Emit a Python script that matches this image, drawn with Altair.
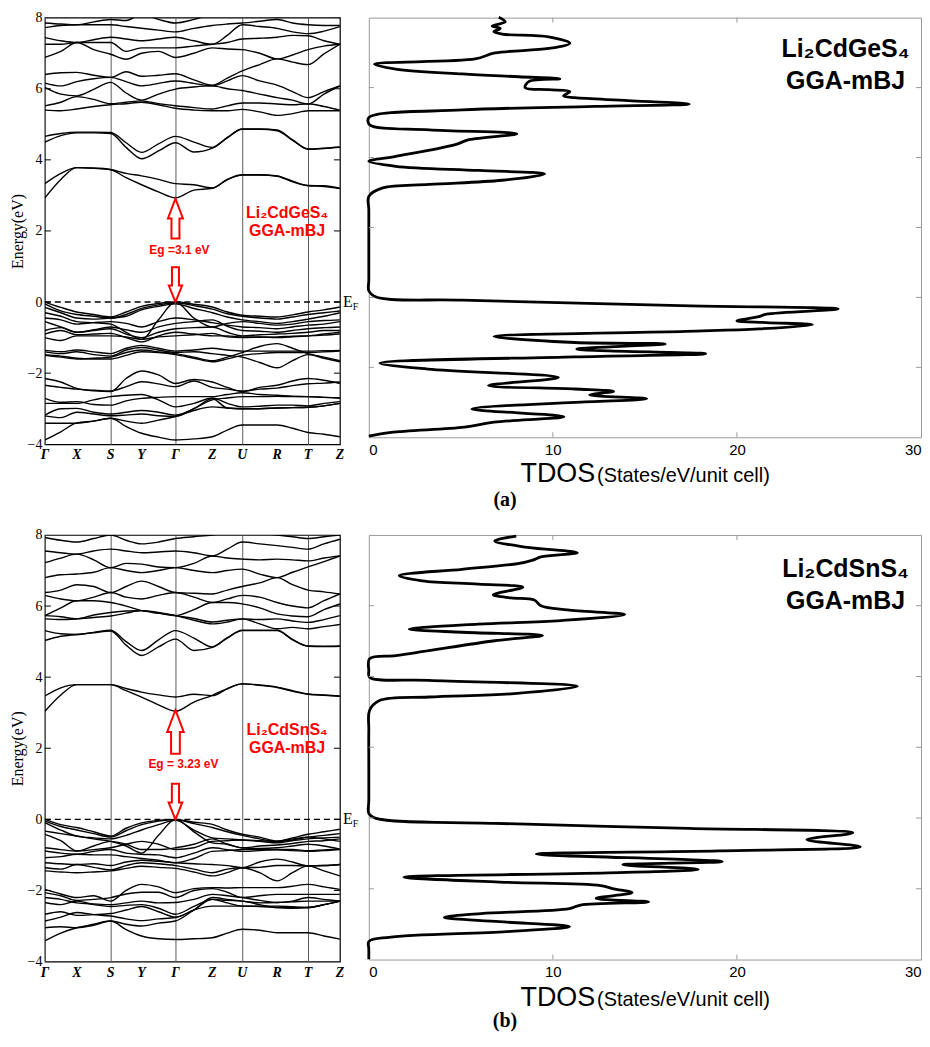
import altair as alt
import pandas as pd

# ---------------- data ----------------
K_POS = [0.0, 0.32, 0.66, 0.97, 1.31, 1.68, 1.98, 2.33, 2.64, 2.96]
K_LABELS = ["Γ", "X", "S", "Y", "Γ", "Z", "U", "R", "T", "Z"]
K_SAMPLE = [0.0, 0.16, 0.32, 0.49, 0.66, 0.815, 0.97, 1.14, 1.31, 1.495,
            1.68, 1.83, 1.98, 2.155, 2.33, 2.485, 2.64, 2.80, 2.96]
E_TICKS = [-4, -2, 0, 2, 4, 6, 8]
DOS_TICKS = [0, 10, 20, 30]

BANDS_A_CB = [
    [2.93, 3.45, 3.78, 3.76, 3.72, 3.50, 3.30, 3.10, 2.93, 3.15, 3.20, 3.45, 3.58, 3.58, 3.55, 3.40, 3.28, 3.27, 3.20],
    [3.33, 3.62, 3.78, 3.77, 3.73, 3.62, 3.55, 3.45, 3.33, 3.30, 3.21, 3.44, 3.57, 3.57, 3.54, 3.38, 3.27, 3.25, 3.19],
    [4.50, 4.68, 4.76, 4.76, 4.74, 4.35, 4.03, 4.25, 4.48, 4.22, 4.33, 4.62, 4.86, 4.86, 4.82, 4.55, 4.30, 4.32, 4.35],
    [4.66, 4.74, 4.78, 4.78, 4.77, 4.48, 4.21, 4.45, 4.66, 4.50, 4.35, 4.63, 4.87, 4.87, 4.84, 4.56, 4.31, 4.33, 4.36],
    [5.40, 5.38, 5.43, 5.50, 5.55, 5.58, 5.62, 5.55, 5.45, 5.40, 5.38, 5.38, 5.42, 5.35, 5.25, 5.30, 5.38, 5.38, 5.38],
    [5.52, 5.62, 5.78, 5.70, 5.58, 5.62, 5.66, 5.58, 5.52, 5.47, 5.43, 5.52, 5.60, 5.60, 5.57, 5.55, 5.58, 5.50, 5.40],
    [6.04, 5.85, 5.80, 5.98, 6.18, 5.88, 5.68, 5.85, 5.99, 6.05, 6.08, 6.00, 5.95, 5.85, 5.75, 5.68, 5.57, 5.85, 6.08],
    [6.16, 6.08, 6.20, 6.28, 6.32, 6.20, 6.08, 6.15, 6.22, 6.15, 6.08, 6.22, 6.37, 6.22, 6.10, 5.92, 5.75, 5.92, 6.08],
    [6.40, 6.45, 6.46, 6.38, 6.32, 6.48, 6.35, 6.38, 6.42, 6.25, 6.10, 6.30, 6.50, 6.68, 6.84, 6.75, 6.68, 6.98, 7.25],
    [6.88, 7.05, 7.30, 7.10, 6.97, 6.83, 7.00, 7.05, 6.88, 7.00, 7.15, 7.12, 7.10, 7.00, 6.84, 6.95, 7.10, 7.20, 7.25],
    [7.25, 7.25, 7.30, 7.30, 7.30, 7.05, 7.15, 7.15, 7.15, 7.20, 7.25, 7.30, 7.40, 7.42, 7.45, 7.50, 7.49, 7.35, 7.25],
    [7.44, 7.35, 7.30, 7.38, 7.45, 7.40, 7.35, 7.40, 7.45, 7.35, 7.25, 7.50, 7.80, 7.75, 7.70, 7.60, 7.55, 7.62, 7.75],
    [7.72, 7.78, 7.80, 7.80, 7.80, 7.75, 7.70, 7.65, 7.60, 7.70, 7.78, 7.82, 7.85, 7.90, 7.95, 7.85, 7.80, 7.78, 7.78],
    [7.85, 7.82, 7.80, 7.88, 7.95, 7.92, 8.10, 7.95, 7.85, 7.95, 8.10, 8.15, 8.20, 8.10, 8.00, 8.05, 8.10, 8.05, 8.00],
]
BANDS_A_VB = [
    [0.00, -0.15, -0.28, -0.35, -0.42, -0.28, -0.12, -0.04, 0.00, -0.06, -0.14, -0.28, -0.37, -0.40, -0.42, -0.36, -0.28, -0.22, -0.14],
    [-0.05, -0.25, -0.35, -0.40, -0.45, -0.35, -0.18, -0.08, -0.02, -0.10, -0.20, -0.33, -0.40, -0.45, -0.48, -0.42, -0.35, -0.30, -0.25],
    [-0.15, -0.30, -0.45, -0.48, -0.45, -0.40, -0.22, -0.12, -0.05, -0.18, -0.30, -0.42, -0.50, -0.55, -0.60, -0.55, -0.48, -0.40, -0.30],
    [-0.30, -0.40, -0.55, -0.58, -0.62, -0.85, -1.05, -0.50, 0.00, -0.45, -0.70, -0.60, -0.55, -0.60, -0.65, -0.62, -0.55, -0.52, -0.50],
    [-0.45, -0.50, -0.62, -0.58, -0.55, -0.60, -0.70, -0.55, -0.45, -0.50, -0.58, -0.65, -0.70, -0.72, -0.75, -0.70, -0.65, -0.62, -0.55],
    [-0.55, -0.70, -0.85, -0.78, -0.70, -0.78, -0.85, -0.70, -0.60, -0.55, -0.50, -0.68, -0.80, -0.82, -0.85, -0.80, -0.75, -0.72, -0.70],
    [-0.80, -0.72, -0.85, -0.80, -0.75, -0.90, -1.00, -0.85, -0.75, -0.72, -0.70, -0.85, -0.95, -0.92, -0.90, -0.88, -0.85, -0.80, -0.80],
    [-0.90, -0.80, -0.92, -0.90, -0.88, -1.00, -1.12, -0.95, -0.85, -0.90, -0.95, -0.95, -0.98, -0.98, -1.00, -0.98, -0.95, -0.90, -0.85],
    [-1.00, -1.08, -0.95, -0.95, -0.95, -0.98, -1.05, -0.98, -0.95, -0.92, -0.88, -0.98, -1.00, -0.99, -0.98, -0.96, -0.95, -0.93, -0.90],
    [-1.36, -1.40, -1.35, -1.40, -1.45, -1.30, -1.22, -1.30, -1.38, -1.35, -1.30, -1.35, -1.38, -1.38, -1.38, -1.38, -1.38, -1.37, -1.36],
    [-1.40, -1.45, -1.40, -1.48, -1.52, -1.35, -1.28, -1.35, -1.42, -1.40, -1.45, -1.50, -1.55, -1.70, -1.85, -1.65, -1.48, -1.58, -1.68],
    [-1.50, -1.55, -1.60, -1.58, -1.55, -1.42, -1.35, -1.40, -1.45, -1.55, -1.65, -1.55, -1.42, -1.25, -1.17, -1.30, -1.45, -1.55, -1.65],
    [-1.48, -1.52, -1.58, -1.60, -1.60, -1.50, -1.40, -1.42, -1.48, -1.58, -1.68, -1.60, -1.50, -1.45, -1.42, -1.42, -1.42, -1.40, -1.38],
    [-2.15, -2.25, -2.43, -2.50, -2.52, -2.15, -1.94, -2.05, -2.29, -2.18, -2.25, -2.40, -2.52, -2.40, -2.34, -2.22, -2.15, -2.20, -2.29],
    [-2.34, -2.40, -2.45, -2.48, -2.50, -2.38, -2.24, -2.30, -2.38, -2.22, -2.40, -2.45, -2.50, -2.45, -2.42, -2.35, -2.30, -2.28, -2.25],
    [-2.71, -2.82, -2.80, -2.88, -2.90, -2.78, -2.71, -2.68, -2.66, -2.66, -2.66, -2.60, -2.55, -2.60, -2.62, -2.65, -2.66, -2.68, -2.70],
    [-2.85, -2.85, -2.85, -2.75, -2.66, -2.62, -2.60, -2.75, -2.95, -2.85, -2.70, -2.85, -2.95, -2.93, -2.90, -2.90, -2.92, -2.85, -2.80],
    [-3.18, -3.00, -2.99, -3.10, -3.15, -3.10, -3.05, -3.10, -3.18, -3.00, -2.72, -2.98, -3.00, -3.00, -2.98, -2.97, -2.96, -2.92, -2.85],
    [-3.20, -3.25, -3.10, -3.15, -3.20, -3.18, -3.15, -3.20, -3.22, -3.00, -2.75, -2.70, -2.66, -2.66, -2.65, -2.66, -2.66, -2.68, -2.70],
    [-3.41, -3.41, -3.41, -3.35, -3.27, -3.35, -3.41, -3.32, -3.22, -3.05, -2.95, -2.98, -3.00, -3.00, -2.98, -2.97, -2.96, -2.92, -2.85],
    [-3.88, -3.65, -3.40, -3.35, -3.27, -3.50, -3.69, -3.80, -3.88, -3.85, -3.79, -3.60, -3.46, -3.46, -3.46, -3.55, -3.67, -3.72, -3.79],
]
BANDS_B_CB = [
    [3.04, 3.50, 3.79, 3.79, 3.79, 3.62, 3.44, 3.22, 3.04, 3.30, 3.49, 3.68, 3.81, 3.78, 3.72, 3.62, 3.53, 3.50, 3.47],
    [3.47, 3.70, 3.79, 3.79, 3.79, 3.68, 3.58, 3.50, 3.44, 3.52, 3.48, 3.67, 3.81, 3.77, 3.71, 3.60, 3.52, 3.49, 3.46],
    [5.03, 5.15, 5.20, 5.25, 5.30, 4.90, 4.61, 4.85, 5.07, 4.75, 4.84, 5.10, 5.31, 5.31, 5.31, 5.05, 4.87, 4.86, 4.87],
    [5.31, 5.22, 5.20, 5.26, 5.32, 5.00, 4.75, 5.05, 5.31, 5.10, 4.85, 5.11, 5.32, 5.32, 5.32, 5.06, 4.88, 4.87, 4.88],
    [5.64, 5.62, 5.64, 5.68, 5.72, 5.80, 5.87, 5.80, 5.73, 5.60, 5.50, 5.55, 5.64, 5.50, 5.36, 5.40, 5.36, 5.42, 5.48],
    [5.73, 5.70, 5.64, 5.75, 5.82, 5.86, 5.87, 5.82, 5.73, 5.65, 5.55, 5.60, 5.64, 5.62, 5.64, 5.58, 5.54, 5.62, 5.73],
    [5.73, 5.95, 6.15, 6.15, 6.10, 6.00, 5.87, 5.80, 5.73, 5.90, 6.10, 6.10, 6.06, 5.95, 5.78, 5.72, 5.70, 5.90, 6.06],
    [6.30, 6.20, 6.15, 6.25, 6.38, 6.25, 6.20, 6.30, 6.38, 6.25, 6.10, 6.20, 6.30, 6.25, 6.10, 6.00, 5.95, 6.15, 6.34],
    [6.38, 6.45, 6.60, 6.55, 6.38, 6.55, 6.70, 6.55, 6.38, 6.36, 6.34, 6.45, 6.55, 6.65, 6.80, 6.60, 6.45, 6.40, 6.34],
    [6.80, 6.88, 6.90, 6.95, 7.08, 7.00, 6.94, 7.00, 7.08, 7.00, 6.94, 7.00, 7.04, 6.90, 6.80, 6.95, 7.10, 7.25, 7.41],
    [7.22, 7.35, 7.46, 7.30, 7.08, 7.20, 7.18, 7.10, 7.08, 7.20, 7.41, 7.35, 7.32, 7.30, 7.32, 7.30, 7.27, 7.35, 7.41],
    [7.55, 7.50, 7.46, 7.55, 7.60, 7.55, 7.50, 7.52, 7.55, 7.50, 7.41, 7.60, 7.80, 7.75, 7.70, 7.65, 7.60, 7.75, 7.88],
    [7.93, 7.85, 7.80, 7.90, 8.00, 7.85, 7.75, 7.80, 7.90, 7.95, 8.00, 8.05, 8.10, 8.05, 8.00, 7.95, 7.90, 7.95, 8.00],
]
BANDS_B_VB = [
    [0.00, -0.15, -0.23, -0.35, -0.47, -0.25, -0.10, -0.03, 0.00, -0.08, -0.14, -0.30, -0.42, -0.50, -0.61, -0.52, -0.42, -0.35, -0.28],
    [-0.05, -0.20, -0.30, -0.40, -0.50, -0.32, -0.15, -0.05, -0.01, -0.12, -0.23, -0.35, -0.45, -0.55, -0.63, -0.58, -0.50, -0.45, -0.40],
    [-0.09, -0.30, -0.47, -0.52, -0.55, -0.45, -0.30, -0.15, -0.03, -0.30, -0.52, -0.55, -0.58, -0.62, -0.66, -0.60, -0.55, -0.52, -0.50],
    [-0.33, -0.40, -0.47, -0.55, -0.62, -0.75, -0.95, -0.45, 0.00, -0.35, -0.66, -0.70, -0.80, -0.75, -0.72, -0.68, -0.62, -0.60, -0.55],
    [-0.42, -0.60, -0.89, -0.75, -0.62, -0.70, -0.85, -0.85, -0.80, -0.70, -0.55, -0.70, -0.80, -0.82, -0.80, -0.75, -0.70, -0.75, -0.84],
    [-0.80, -0.85, -0.89, -0.85, -0.80, -0.70, -0.62, -0.70, -0.85, -0.80, -0.62, -0.60, -0.58, -0.60, -0.62, -0.55, -0.50, -0.55, -0.62],
    [-0.89, -0.95, -0.98, -0.90, -0.85, -0.95, -0.98, -1.00, -1.08, -0.95, -0.80, -0.85, -0.90, -0.88, -0.85, -0.85, -0.88, -0.86, -0.84],
    [-1.08, -1.05, -0.98, -1.00, -1.00, -1.05, -1.10, -1.15, -1.22, -1.10, -0.90, -0.88, -0.85, -0.85, -0.86, -0.88, -0.90, -0.88, -0.85],
    [-1.22, -1.25, -1.27, -1.25, -1.30, -1.20, -1.15, -1.18, -1.22, -1.25, -1.27, -1.30, -1.36, -1.20, -1.12, -1.20, -1.31, -1.30, -1.27],
    [-1.36, -1.40, -1.27, -1.35, -1.42, -1.30, -1.22, -1.25, -1.30, -1.40, -1.50, -1.40, -1.36, -1.50, -1.73, -1.50, -1.31, -1.45, -1.59],
    [-1.45, -1.48, -1.50, -1.48, -1.45, -1.38, -1.32, -1.35, -1.38, -1.48, -1.59, -1.50, -1.36, -1.35, -1.30, -1.30, -1.31, -1.30, -1.27],
    [-1.97, -2.10, -2.20, -2.15, -2.30, -2.00, -1.83, -1.90, -2.06, -1.95, -1.92, -1.93, -1.92, -1.92, -1.92, -1.88, -1.83, -1.90, -1.97],
    [-2.06, -2.15, -2.28, -2.25, -2.20, -2.10, -2.05, -2.05, -2.20, -2.00, -1.95, -2.05, -2.20, -2.15, -2.11, -2.11, -2.11, -2.11, -2.11],
    [-2.20, -2.25, -2.35, -2.38, -2.40, -2.35, -2.30, -2.35, -2.34, -2.25, -2.11, -2.15, -2.20, -2.28, -2.34, -2.30, -2.20, -2.25, -2.30],
    [-2.34, -2.40, -2.30, -2.40, -2.45, -2.42, -2.40, -2.50, -2.67, -2.45, -2.25, -2.35, -2.44, -2.45, -2.48, -2.50, -2.48, -2.40, -2.30],
    [-2.67, -2.60, -2.70, -2.68, -2.65, -2.55, -2.45, -2.60, -2.75, -2.55, -2.44, -2.44, -2.44, -2.44, -2.44, -2.46, -2.48, -2.40, -2.30],
    [-2.86, -2.75, -2.62, -2.68, -2.72, -2.80, -2.85, -2.80, -2.76, -2.55, -2.20, -2.25, -2.30, -2.35, -2.34, -2.32, -2.30, -2.30, -2.30],
    [-3.05, -3.02, -3.05, -2.98, -2.86, -2.95, -3.00, -2.92, -2.86, -2.55, -2.25, -2.28, -2.30, -2.40, -2.48, -2.48, -2.48, -2.40, -2.30],
    [-3.42, -3.20, -3.05, -2.95, -2.86, -3.10, -3.28, -3.36, -3.38, -3.36, -3.33, -3.20, -3.09, -3.12, -3.19, -3.19, -3.19, -3.28, -3.37],
]

TDOS_A_E = [8.01, 7.88, 7.76, 7.69, 7.60, 7.53, 7.45, 7.27, 7.12, 6.99, 6.82, 6.67, 6.53, 6.39, 6.31, 6.25,
            6.17, 6.00, 5.94, 5.89, 5.76, 5.71, 5.63, 5.53, 5.46, 5.36, 5.14, 4.94, 4.79, 4.68, 4.51, 4.37,
            4.03, 3.89, 3.75, 3.63, 3.53, 3.35, 3.23, 3.13, 2.89, 2.5, 1.5, 0.5, 0.19, 0.01, -0.08, -0.24,
            -0.33, -0.48, -0.55, -0.67, -0.72, -0.78, -0.90, -0.97, -1.12, -1.29, -1.33, -1.48, -1.61, -1.70,
            -1.88, -2.05, -2.29, -2.52, -2.62, -2.69, -2.79, -2.90, -3.00, -3.19, -3.41, -3.57, -3.71, -3.86, -3.97]
TDOS_A = [7.06, 7.41, 6.70, 7.14, 6.79, 7.24, 9.77, 10.92, 9.77, 6.86, 5.78, 0.31, 1.46, 5.08, 8.15, 10.38,
          8.69, 8.49, 9.77, 10.92, 10.58, 11.19, 14.09, 17.41, 12.27, 5.08, 0.0, 0.04, 3.28, 8.05, 5.44, 4.70,
          1.46, 0.0, 1.46, 5.98, 9.55, 7.24, 3.28, 0.76, 0.0, 0.0, 0.0, 0.0, 0.0, 0.40, 5.08, 17.5,
          25.5, 21.6, 21.2, 20.0, 21.6, 24.1, 21.2, 17.2, 6.8, 11.2, 16.1, 11.3, 18.3, 11.2,
          0.6, 3.2, 10.3, 6.5, 11.2, 13.3, 12.0, 15.1, 11.2, 5.6, 10.6, 6.8, 5.2, 1.2, 0.0]
TDOS_B_E = [7.97, 7.83, 7.65, 7.50, 7.38, 7.29, 7.19, 7.03, 6.85, 6.70, 6.61, 6.52, 6.31, 6.22, 6.16, 6.00,
            5.88, 5.75, 5.58, 5.48, 5.34, 5.25, 5.16, 5.01, 4.73, 4.59, 4.50, 4.17, 3.98, 3.89, 3.72, 3.51,
            3.42, 3.32, 3.04, 2.5, 1.5, 0.5, 0.13, -0.01, -0.15, -0.29, -0.42, -0.61, -0.81, -0.93, -1.02,
            -1.23, -1.32, -1.45, -1.55, -1.67, -1.81, -1.91, -2.00, -2.11, -2.27, -2.37, -2.46, -2.56, -2.70,
            -2.81, -2.93, -3.07, -3.21, -3.37, -3.49, -3.7, -3.99]
TDOS_B = [8.01, 6.84, 8.64, 11.33, 9.35, 8.91, 8.10, 5.06, 1.65, 2.90, 5.95, 8.37, 6.76, 7.74, 8.99, 9.35,
          10.79, 13.9, 10.43, 5.95, 2.19, 5.05, 9.44, 6.84, 3.26, 1.47, 0.04, 0.0, 0.04, 3.26, 11.33, 7.74,
          3.26, 0.58, 0.04, 0.0, 0.0, 0.0, 0.0, 0.39, 6.84, 17.4, 26.3, 23.8, 26.7, 19.0, 9.1,
          19.2, 13.8, 17.9, 13.0, 1.9, 7.1, 12.6, 13.3, 14.3, 12.35, 15.2, 11.5, 10.9, 6.1,
          4.1, 7.1, 10.9, 7.5, 1.1, 0.0, 0.0, 0.0]

# ---------------- styling ----------------
SERIF = "Liberation Serif"
SANS = "Liberation Sans"
RED = "#ff0000"
BAND_W, BAND_H = 296, 428
DOS_W = 554
UP_ARROW = "M0,-1L0.375,0L0.2,0L0.2,1L-0.2,1L-0.2,0L-0.375,0Z"
DOWN_ARROW = "M-0.2,-1L0.2,-1L0.2,0.05L0.38,0.05L0,1L-0.38,0.05L-0.2,0.05Z"

XS_BAND = alt.Scale(domain=[0, K_POS[-1]], nice=False, zero=False)
YS = alt.Scale(domain=[-4, 8], nice=False, zero=False)
XS_DOS = alt.Scale(domain=[0, 30], nice=False, zero=False)


def band_frame(bands):
    rows = []
    for i, b in enumerate(bands):
        for k, e in zip(K_SAMPLE, b):
            rows.append({"k": k, "E": e, "band": i})
    return pd.DataFrame(rows)


def btext(k, e, t, **kw):
    df = pd.DataFrame({"k": [k], "E": [e], "t": [t]})
    return alt.Chart(df).mark_text(**kw).encode(
        x=alt.X("k:Q", scale=XS_BAND), y=alt.Y("E:Q", scale=YS), text="t:N")


def dtext(d, e, t, ys, **kw):
    df = pd.DataFrame({"DOS": [d], "E": [e], "t": [t]})
    return alt.Chart(df).mark_text(**kw).encode(
        x=alt.X("DOS:Q", scale=XS_DOS), y=alt.Y("E:Q", scale=ys), text="t:N")


def band_panel(cb, vb, compound, eg_text, cbm, up_e, up_len, down_e, down_len,
               lab_k, lab_e, eg_k, eg_e):
    df = pd.concat([band_frame(cb), band_frame(vb).assign(band=lambda d: d.band + 100)])
    lines = alt.Chart(df).mark_line(color="black", strokeWidth=1.4,
                                    interpolate="monotone", clip=True).encode(
        x=alt.X("k:Q", scale=XS_BAND, title=None,
                axis=alt.Axis(values=K_POS, labels=False, grid=True,
                              gridColor="#5a5a5a", gridWidth=1, ticks=False, domain=False)),
        y=alt.Y("E:Q", scale=YS, title="Energy(eV)",
                axis=alt.Axis(values=E_TICKS, grid=False, ticks=False, domain=False,
                              labelFont=SERIF, labelFontSize=14, labelPadding=3,
                              labelColor="black", labelOverlap=False,
                              titleFont=SERIF, titleFontSize=16, titleFontWeight="normal",
                              titleColor="black", titlePadding=2)),
        detail="band:N",
    )
    klab = alt.Chart(pd.DataFrame({"k": K_POS, "lab": K_LABELS, "E": [-4] * len(K_POS)})).mark_text(
        font=SERIF, fontSize=14, fontStyle="italic", fontWeight="bold", color="black",
        baseline="top", dy=4).encode(
        x=alt.X("k:Q", scale=XS_BAND), y=alt.Y("E:Q", scale=YS), text="lab:N")
    tick_df = pd.DataFrame({"E": E_TICKS[1:-1]})
    tl = alt.Chart(tick_df).mark_rule(color="black").encode(
        y=alt.Y("E:Q", scale=YS), x=alt.value(0), x2=alt.value(6))
    tr = alt.Chart(tick_df).mark_rule(color="black").encode(
        y=alt.Y("E:Q", scale=YS), x=alt.value(BAND_W - 6), x2=alt.value(BAND_W))
    ef = alt.Chart(pd.DataFrame({"E": [0]})).mark_rule(
        color="black", strokeWidth=1.4, strokeDash=[6, 4]).encode(y=alt.Y("E:Q", scale=YS))
    gap = alt.Chart(pd.DataFrame({"k": [K_POS[4]], "E": [0.08], "E2": [cbm - 0.05]})).mark_rule(
        color="white", strokeWidth=3).encode(
        x=alt.X("k:Q", scale=XS_BAND), y=alt.Y("E:Q", scale=YS), y2="E2:Q")
    up = alt.Chart(pd.DataFrame({"k": [K_POS[4]], "E": [up_e]})).mark_point(
        shape=UP_ARROW, size=up_len ** 2, filled=True, fill="white", stroke=RED,
        strokeWidth=2, opacity=1).encode(x=alt.X("k:Q", scale=XS_BAND), y=alt.Y("E:Q", scale=YS))
    down = alt.Chart(pd.DataFrame({"k": [K_POS[4]], "E": [down_e]})).mark_point(
        shape=DOWN_ARROW, size=down_len ** 2, filled=True, fill="white", stroke=RED,
        strokeWidth=2, opacity=1).encode(x=alt.X("k:Q", scale=XS_BAND), y=alt.Y("E:Q", scale=YS))
    t_eg = btext(eg_k, eg_e, eg_text, font=SANS, fontSize=12, fontWeight="bold", color=RED,
                 align="center", baseline="middle")
    t_c = btext(lab_k, lab_e, compound, font=SANS, fontSize=16, fontWeight="bold", color=RED,
                align="center", baseline="middle")
    t_g = btext(lab_k, lab_e - 0.5, "GGA-mBJ", font=SANS, fontSize=16, fontWeight="bold",
                color=RED, align="center", baseline="middle")
    t_e = btext(K_POS[-1], 0, "E", font=SERIF, fontSize=16, color="black", align="left",
                baseline="middle", dx=3)
    t_f = btext(K_POS[-1], 0, "F", font=SERIF, fontSize=10, color="black", align="left",
                baseline="middle", dx=13, dy=5)
    return alt.layer(lines, klab, tl, tr, ef, gap, up, down, t_eg, t_c, t_g, t_e, t_f).properties(
        width=BAND_W, height=BAND_H,
        view=alt.ViewBackground(stroke="black", strokeWidth=1.2))


def tdos_panel(e_vals, dos_vals, height, compound, title_e, letter, letter_e, lab_e):
    ys = alt.Scale(domain=[-4, 8], nice=False, zero=False)
    df = pd.DataFrame({"E": e_vals, "DOS": dos_vals})
    line = alt.Chart(df).mark_line(color="black", strokeWidth=2.8,
                                   interpolate="catmull-rom").encode(
        x=alt.X("DOS:Q", scale=XS_DOS, title=None,
                axis=alt.Axis(values=DOS_TICKS, ticks=False, domain=False, grid=False,
                              labelFont=SANS, labelFontSize=15, labelFlush=True,
                              labelPadding=5, labelColor="black", labelOverlap=False)),
        y=alt.Y("E:Q", scale=ys, axis=None),
        order=alt.Order("E:Q", sort="descending"),
    )
    tick_df = pd.DataFrame({"E": E_TICKS[1:-1]})
    xt_df = pd.DataFrame({"DOS": DOS_TICKS[1:-1]})
    tks = [
        alt.Chart(tick_df).mark_rule(color="#999999").encode(
            y=alt.Y("E:Q", scale=ys), x=alt.value(0), x2=alt.value(5)),
        alt.Chart(tick_df).mark_rule(color="#999999").encode(
            y=alt.Y("E:Q", scale=ys), x=alt.value(DOS_W - 5), x2=alt.value(DOS_W)),
        alt.Chart(xt_df).mark_rule(color="#999999").encode(
            x=alt.X("DOS:Q", scale=XS_DOS), y=alt.value(0), y2=alt.value(5)),
        alt.Chart(xt_df).mark_rule(color="#999999").encode(
            x=alt.X("DOS:Q", scale=XS_DOS), y=alt.value(height - 5), y2=alt.value(height)),
    ]
    texts = [
        dtext(12.3, title_e, "TDOS", ys, font=SANS, fontSize=27, color="black",
              align="right", baseline="alphabetic"),
        dtext(12.4, title_e, "(States/eV/unit cell)", ys, font=SANS, fontSize=20,
              color="black", align="left", baseline="alphabetic"),
        dtext(7.4, letter_e, letter, ys, font=SERIF, fontSize=20, fontWeight="bold",
              color="black", align="center", baseline="alphabetic"),
        dtext(25.9, lab_e, compound, ys, font=SANS, fontSize=25, fontWeight="bold",
              color="black", align="center", baseline="middle"),
        dtext(25.9, lab_e - 0.9, "GGA-mBJ", ys, font=SANS, fontSize=25, fontWeight="bold",
              color="black", align="center", baseline="middle"),
    ]
    return alt.layer(line, *tks, *texts).properties(
        width=DOS_W, height=height,
        view=alt.ViewBackground(stroke="#9a9a9a", strokeWidth=1))


band_a = band_panel(BANDS_A_CB, BANDS_A_VB, "Li₂CdGeS₄", "Eg =3.1 eV", 2.93,
                    2.35, 40, 0.49, 35, 2.43, 2.50, 1.35, 1.46)
band_b = band_panel(BANDS_B_CB, BANDS_B_VB, "Li₂CdSnS₄", "Eg = 3.23 eV", 3.04,
                    2.46, 44, 0.50, 36, 2.43, 2.52, 1.39, 1.55)
tdos_a = tdos_panel(TDOS_A_E, TDOS_A, 421, "Li₂CdGeS₄", -5.27, "(a)", -5.97, 7.1)
tdos_b = tdos_panel(TDOS_B_E, TDOS_B, 426, "Li₂CdSnS₄", -5.30, "(b)", -5.92, 7.03)

row_a = alt.hconcat(band_a, tdos_a, spacing=29, bounds="flush")
row_b = alt.hconcat(band_b, tdos_b, spacing=29, bounds="flush")
chart = alt.vconcat(row_a, row_b, spacing=16).properties(
    padding={"left": 0, "top": 0, "right": 0, "bottom": 0},
    background="white",
)

chart.save("out.html", embed_options={"renderer": "svg", "actions": False})
